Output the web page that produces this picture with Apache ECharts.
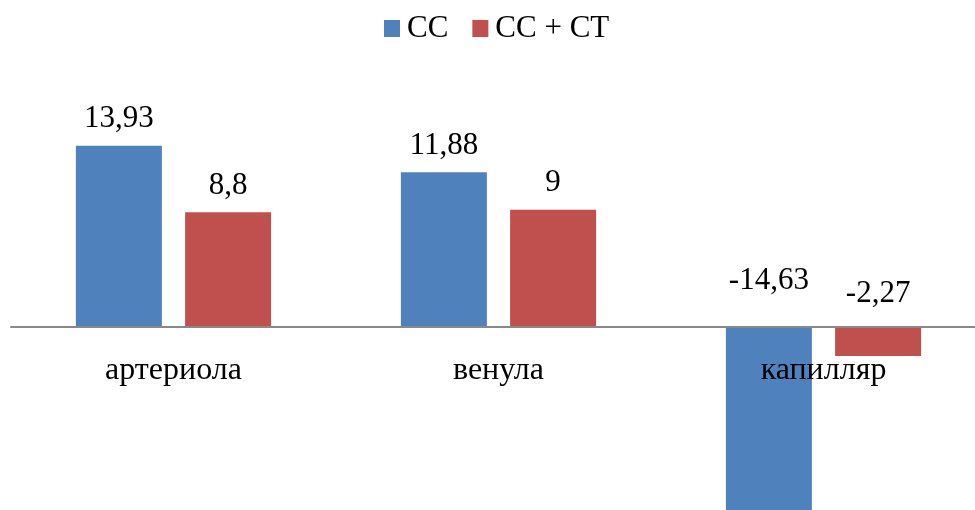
<!DOCTYPE html>
<html>
<head>
<meta charset="utf-8">
<script src="https://cdn.jsdelivr.net/npm/echarts@6/dist/echarts.min.js"></script>
<style>
  html, body { margin: 0; padding: 0; background: #ffffff; }
  #chart { width: 975px; height: 510px; }
</style>
</head>
<body>
<div id="chart"></div>
<script>
// Categories and series values
const categories = ['артериола', 'венула', 'капилляр'];
const seriesNames = ['CC', 'CC + CT'];
const valuesCC = [13.93, 11.88, -14.63];
const valuesCCCT = [8.8, 9, -2.27];
// Extra vertical shift for labels of the negative bars
const labelShiftCC = [0, 0, -19];
const labelShiftCCCT = [0, 0, -6];

const FONT = '"Liberation Serif", "Times New Roman", serif';
const formatValue = v => String(v).replace('.', ',');

function buildData(values, shifts) {
  return values.map((v, i) => ({
    value: v,
    label: { offset: [0, shifts[i]] }
  }));
}

// Value range and plot box
const yMin = -15, yMax = 18;
const gridTop = 93, gridHeight = 428;
// Lift the category axis from the grid bottom to the zero line
const zeroOffset = -gridHeight * (0 - yMin) / (yMax - yMin);

const chart = echarts.init(document.getElementById('chart'));
chart.setOption({
  animation: false,
  backgroundColor: '#ffffff',
  legend: {
    top: 13,
    left: 384,
    padding: 0,
    itemWidth: 16,
    itemHeight: 17,
    itemGap: 24,
    icon: 'rect',
    textStyle: { fontFamily: FONT, fontSize: 31, color: '#000000', padding: [0, 0, 0, 2] },
    data: seriesNames
  },
  grid: { left: 11, width: 975, top: gridTop, height: gridHeight, outerBoundsMode: 'none', containLabel: false },
  xAxis: {
    type: 'category',
    data: categories,
    z: 5,
    offset: zeroOffset,
    axisLine: { show: true, onZero: false, lineStyle: { color: '#898989', width: 2 } },
    axisTick: { show: false },
    axisLabel: { fontFamily: FONT, fontSize: 32, color: '#000000', margin: 28 }
  },
  yAxis: {
    type: 'value',
    min: yMin,
    max: yMax,
    show: false,
    splitLine: { show: false }
  },
  series: [
    {
      name: seriesNames[0],
      type: 'bar',
      barWidth: 86,
      barGap: '27%',
      itemStyle: { color: '#4F81BD' },
      label: {
        show: true, position: 'top', distance: 11,
        fontFamily: FONT, fontSize: 31, color: '#000000',
        formatter: p => formatValue(p.value)
      },
      data: buildData(valuesCC, labelShiftCC)
    },
    {
      name: seriesNames[1],
      type: 'bar',
      barWidth: 86,
      barGap: '27%',
      itemStyle: { color: '#C0504D' },
      label: {
        show: true, position: 'top', distance: 11,
        fontFamily: FONT, fontSize: 31, color: '#000000',
        formatter: p => formatValue(p.value)
      },
      data: buildData(valuesCCCT, labelShiftCCCT)
    }
  ]
});
</script>
</body>
</html>
